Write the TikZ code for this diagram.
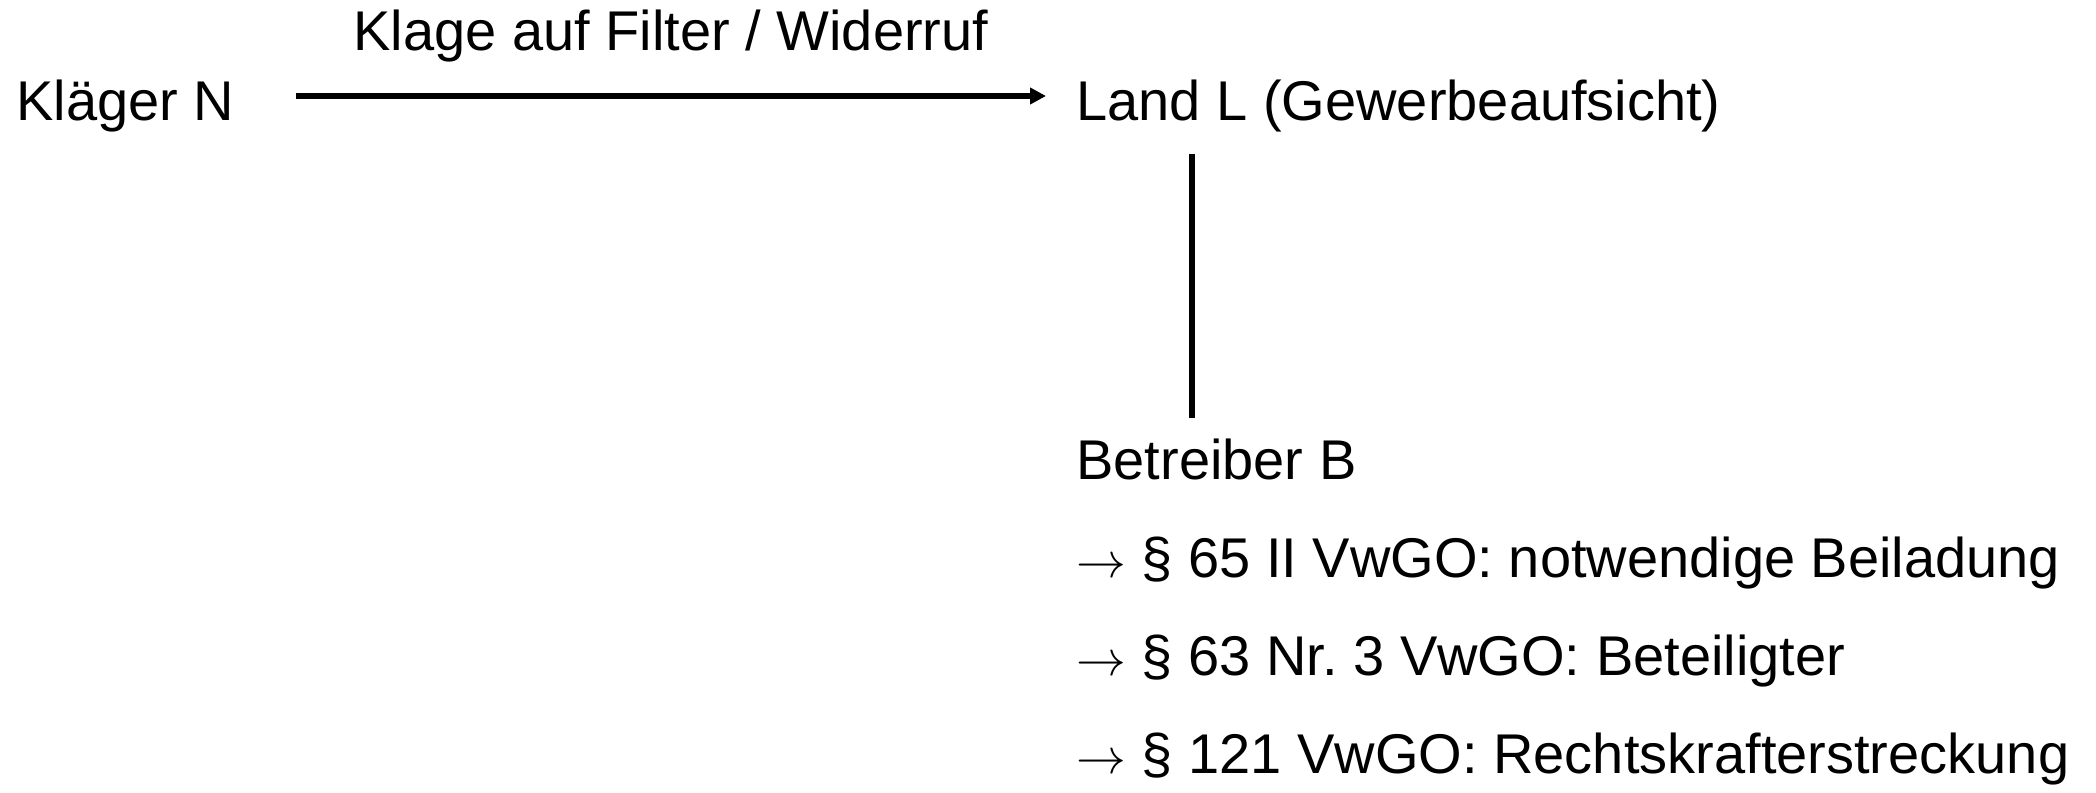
\documentclass[tikz,border=0pt]{standalone}
\usepackage{fontspec}
\setmainfont{Liberation Sans}
\usetikzlibrary{arrows.meta}

\tikzset{
  lbl/.style={anchor=base west, inner sep=0pt, font=\fontsize{28}{33}\selectfont},
  link/.style={line width=3pt},
  arr/.style={link, -{Triangle[length=8pt,width=8pt]}}
}

\begin{document}
\frenchspacing
\begin{tikzpicture}[x=0.5pt,y=-0.5pt]
        \useasboundingbox (0,0) rectangle (2096,792);

        % parties
        \node[lbl] (kl)   at (16,120)   {Kläger N};
        \node[lbl] (land) at (1076,120) {Land L (Gewerbeaufsicht)};
        \node[lbl] (betr) at (1076,479) {Betreiber B};

        % norms
        \node[lbl] (n65)  at (1076,577) {$\rightarrow$ § 65 II VwGO: notwendige Beiladung};
        \node[lbl] (n63)  at (1076,675) {$\rightarrow$ § 63 Nr. 3 VwGO: Beteiligter};
        \node[lbl] (n121) at (1076,773) {$\rightarrow$ § 121 VwGO: Rechtskrafterstreckung};

        \draw[arr] ([xshift=30.5pt,yshift=12pt]kl.base east)
          -- node[lbl, anchor=south, above=15.5pt] (klage) {Klage auf Filter / Widerruf}
          ([xshift=-15pt,yshift=12pt]land.base west);
        \draw[link] ([xshift=58pt,yshift=-17pt]land.base west)
          -- ([xshift=58pt,yshift=30.5pt]betr.base west);
      \end{tikzpicture}
\end{document}
